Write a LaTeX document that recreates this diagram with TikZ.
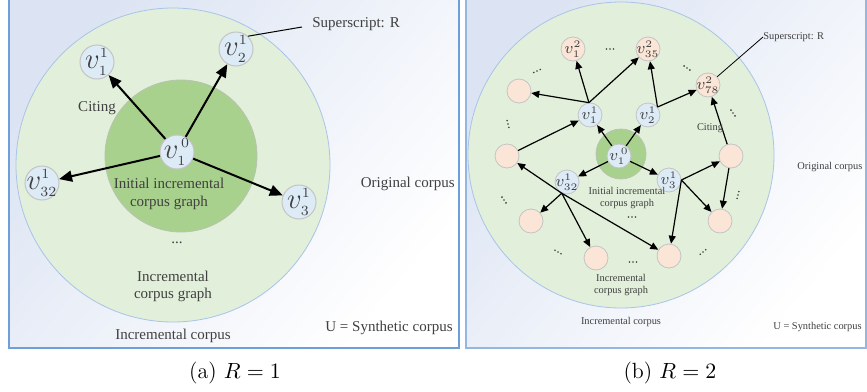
\documentclass[tikz,border=0pt]{standalone}
\usepackage{fontspec}
\newfontfamily\lib{Liberation Serif}
\usetikzlibrary{arrows.meta,calc}
\definecolor{bgblue}{HTML}{DCE4F3}
\definecolor{framec}{HTML}{6F9FD8}
\definecolor{outerg}{HTML}{E2EFDA}
\definecolor{outerb}{HTML}{A9C4E8}
\definecolor{innerg}{HTML}{A9D18E}
\definecolor{innerb}{HTML}{B8C4B0}
\definecolor{nblue}{HTML}{DDEBF7}
\definecolor{npink}{HTML}{FBE5D6}
\definecolor{nbord}{HTML}{C4C4C4}
\definecolor{txt}{HTML}{404040}
\newcommand\vl[2]{\makebox[0pt]{$v^{\scriptscriptstyle #1}_{\scriptscriptstyle #2}$}}
\newcommand\dts[3]{\foreach \k in {-1,0,1} {\fill[txt] ($(#1,#2)+(#3:\k*3.5)$) circle (0.45pt);}}
\begin{document}
\begin{tikzpicture}[x=0.5pt,y=-0.5pt,
  lnode/.style={circle,draw=nbord,fill=nblue,line width=0.5pt,minimum size=17pt,inner sep=0pt,
     font=\fontsize{13.5}{14}\selectfont,text=txt},
  snode/.style={circle,draw=nbord,fill=nblue,line width=0.4pt,minimum size=12pt,inner sep=0pt,
     font=\fontsize{8.5}{9}\selectfont,text=txt},
  pnode/.style={circle,draw=nbord,fill=npink,line width=0.4pt,minimum size=12pt,inner sep=0pt,
     font=\fontsize{8.5}{9}\selectfont,text=txt},
  ltxt/.style={font=\lib\fontsize{7.5}{8.5}\selectfont,text=txt,inner sep=0pt,align=center},
  stxt/.style={font=\lib\fontsize{5.2}{6}\selectfont,text=txt,inner sep=0pt,align=center},
  arrL/.style={line width=1pt,-{Triangle[length=6.5pt,width=5.5pt]}},
  arrR/.style={line width=0.6pt,-{Triangle[length=4pt,width=3.5pt]}},
  capt/.style={font=\fontsize{11}{13}\selectfont,inner sep=0pt}]
\useasboundingbox (0,0) rectangle (867,391);
% ---------- panels
\shade[top color=bgblue,bottom color=white,shading angle=50] (9,-3) rectangle (459,348);
\draw[framec,line width=0.8pt] (9,-3) rectangle (459,348);
\shade[top color=bgblue,bottom color=white,shading angle=50] (466,-3) rectangle (866,348);
\draw[framec!75,line width=0.8pt] (466,-3) rectangle (866,348);
% ---------- left panel
\fill[outerg,draw=outerb,line width=0.4pt] (173,165) circle (157);
\fill[innerg,draw=innerb,line width=0.4pt] (181,156) circle (76);
\node[lnode] (L0) at (177,152) {\vl{\,0}{1}};
\node[lnode] (L11) at (97,62) {\vl{1}{1}};
\node[lnode] (L21) at (236,49) {\vl{1}{2}};
\node[lnode] (L321) at (42,183) {\vl{1}{32}};
\node[lnode] (L31) at (299,202) {\vl{1}{3}};
\draw[arrL] (L0) -- (L11);
\draw[arrL] (L0) -- (L21);
\draw[arrL] (L0) -- (L321);
\draw[arrL] (L0) -- (L31);
\node[ltxt] (Lcit) at (97,108) {Citing};
\node[ltxt,anchor=west] (Lsup) at (312,24) {Superscript: R};
\coordinate (Lsupend) at (302,27);
\draw[line width=0.5pt] (L21.47) -- (Lsupend);
\node[ltxt] (Linit) at (169,194) {Initial incremental\\[0.8pt]corpus graph};
\node[ltxt] (Ldots) at (177,243) {...};
\node[ltxt] (Linc) at (173,286) {Incremental\\corpus graph};
\node[ltxt] (Lcorp) at (173,336) {Incremental corpus};
\node[ltxt,anchor=east] (Lorig) at (455,184) {Original corpus};
\node[ltxt,anchor=east] (Lsyn) at (453,328) {U = Synthetic corpus};
\node[capt] (capa) at (235,373) {(a) $R=1$};
% ---------- right panel
\fill[outerg,draw=outerb,line width=0.4pt] (621,155) circle (153);
\fill[innerg,draw=innerb,line width=0.4pt] (621,154) circle (25);
\node[snode] (R0) at (619,156) {\vl{\,0}{1}};
\node[snode] (R11) at (590,115) {\vl{1}{1}};
\node[snode] (R21) at (648,115) {\vl{1}{2}};
\node[snode] (R321) at (567,182) {\vl{1}{32}};
\node[snode] (R31) at (669,180) {\vl{1}{3}};
\node[pnode] (R12) at (573,49) {\vl{2}{1}};
\node[pnode] (R352) at (648,49) {\vl{2}{35}};
\node[pnode] (R782) at (708,85) {\vl{2}{78}};
\node[pnode] (PL1) at (519,91) {};
\node[pnode] (PL2) at (507,156) {};
\node[pnode] (PR1) at (731,156) {};
\node[pnode] (PLL) at (531,221) {};
\node[pnode] (PB1) at (596,258) {};
\node[pnode] (PB2) at (669,256) {};
\node[pnode] (PR2) at (720,221) {};
\draw[arrR] (R0) -- (R11);
\draw[arrR] (R0) -- (R21);
\draw[arrR] (R0) -- (R321);
\draw[arrR] (R0) -- (R31);
\draw[arrR] (R11.95) -- (R12);
\draw[arrR] (R11.95) -- (R352);
\draw[arrR] (R11.95) -- (PL1);
\draw[arrR] (PL2) -- (R11);
\draw[arrR] (R21.40) -- (R352);
\draw[arrR] (R21.40) -- (R782);
\draw[arrR] (PR1) -- (R782);
\draw[arrR] (R31.east) -- (PR1);
\draw[arrR] (R31.east) -- (PR2);
\draw[arrR] (R31.east) -- (PB2);
\draw[arrR] (PR1) -- (PR2);
\draw[arrR] (R321.-115) -- (PL2);
\draw[arrR] (R321.-115) -- (PLL);
\draw[arrR] (R321.-115) -- (PB1);
\draw[arrR] (R321.-115) -- (PB2);
% dots
\dts{610}{49}{0}
\dts{537}{71}{-25}
\dts{687}{68}{35}
\dts{508}{124}{75}
\dts{733}{113}{55}
\dts{738}{195}{-75}
\dts{504}{200}{55}
\dts{558}{252}{30}
\dts{633}{262}{0}
\dts{632}{217}{0}
\dts{703}{252}{-40}
% texts
\node[stxt,anchor=west] (Rsup) at (763,37) {Superscript: R};
\draw[line width=0.4pt] (R782.42) -- (Rsup.west);
\node[stxt] (Rcit) at (710,128) {Citing};
\node[stxt,anchor=west] (Rorig) at (797,167) {Original corpus};
\node[stxt] (Rinit) at (627,198) {Initial incremental\\corpus graph};
\node[stxt] (Rinc) at (621,285) {Incremental\\corpus graph};
\node[stxt] (Rcorp) at (621,322) {Incremental corpus};
\node[stxt,anchor=east] (Rsyn) at (862,327) {U = Synthetic corpus};
\node[capt] (capb) at (670,373) {(b) $R=2$};
\end{tikzpicture}
\end{document}
